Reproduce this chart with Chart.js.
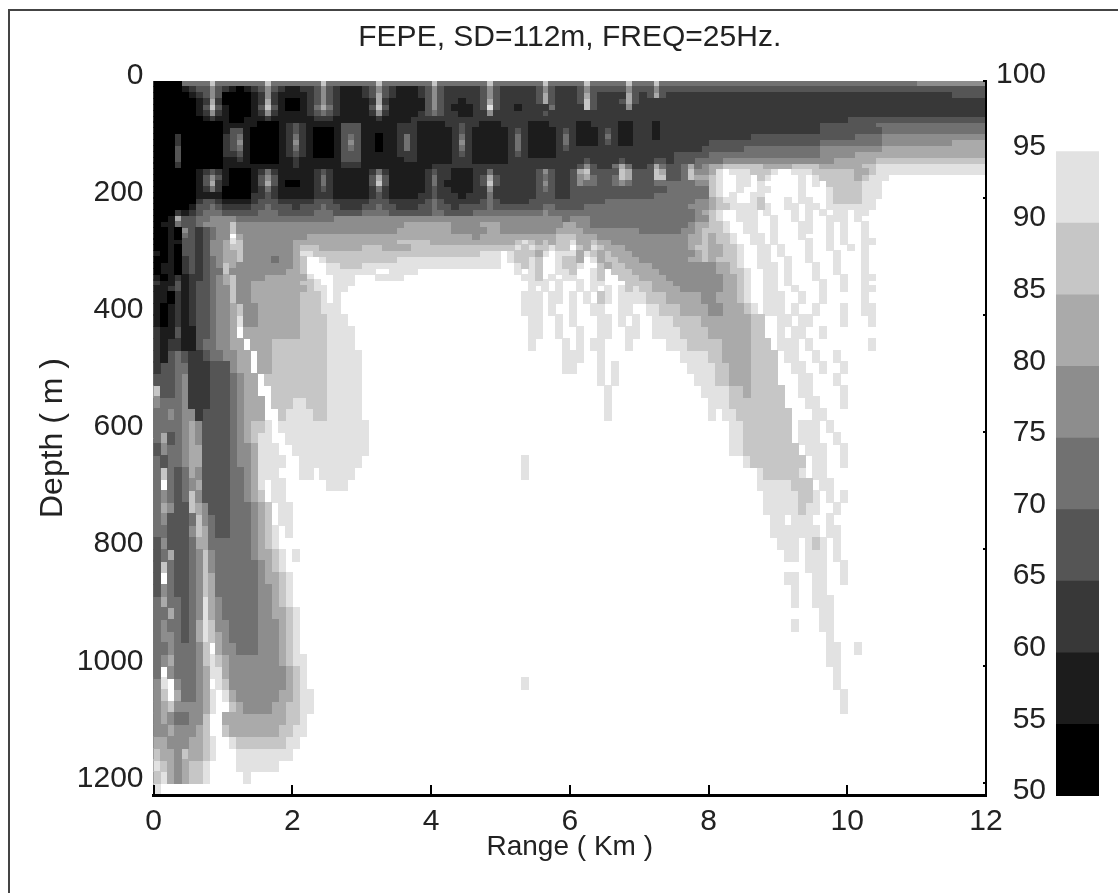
<!DOCTYPE html>
<html>
<head>
<meta charset="utf-8">
<title>FEPE transmission loss</title>
<script src="https://cdn.jsdelivr.net/npm/chart.js@4"></script>
<style>
  html, body { margin: 0; padding: 0; background: #fff; overflow: hidden; }
  #frame { position: absolute; left: 8px; top: 9px; width: 1110px; height: 884px;
           border-left: 2px solid #444; border-top: 2px solid #444; }
  #field { position: absolute; left: 0; top: 0; }
  #cbar { position: absolute; left: 990px; top: 0; }
</style>
</head>
<body>
<div id="frame"></div>
<canvas id="field" width="1118" height="893"></canvas>
<canvas id="cbar" width="128" height="893"></canvas>
<script>
// contour bands (dB)
const bandFloors = [50, 55, 60, 65, 70, 75, 80, 85, 90];
const bandColors = ['#000000', '#1c1c1c', '#383838', '#555555', '#717171', '#8d8d8d', '#aaaaaa', '#c6c6c6', '#e2e2e2'];
const bandStep = 5;
const rangeTicks = [0, 2, 4, 6, 8, 10, 12];
const depthTicks = [0, 200, 400, 600, 800, 1000, 1200];
const barTicks = [50, 55, 60, 65, 70, 75, 80, 85, 90, 95, 100];
const rangeMax = 12, depthMax = 1220;
const colStep = 0.1;          // km per column
const shallowStep = 10;       // m per row, 0-360 m
const deepStep = 20;          // m per row, 360-1220 m
const deepStart = 360;
const farStartCol = 50;

// band index per cell, '.' = above 95 (white). Blocks of ten columns = 1 km.
const shallowRows = [
"0000444474 4444447444 4444744444 4474444444 7444444474 4444447444 4474444474 4474444444 4444444444 4444444444 4444444444 5555555555",
"0000123353 2101235321 1223532111 2353211123 5322222353 2222235322 2353333353 3353333333 3333333333 3333333333 3333333333 3333333333",
"0000012353 0000125211 1123532111 2363211123 5322222353 2222236322 2363222263 2363222222 2222222222 2222222222 2222222222 2222233333",
"0000001262 0000126210 0123532111 1262111113 5322122363 2222236322 2373222363 2222222222 2222222222 2222222222 2222222222 2222222222",
"0000001373 1000137310 0124642111 1373111113 5321112383 2212222422 2273222252 2222222222 2222222222 2222222222 2222222222 2222222222",
"0000001252 1000125211 1123432111 1252111123 4322112252 2222223222 2222222222 2222222222 2222222222 2222222222 2222222222 2222222222",
"0000000121 1001112111 1112221111 1121111222 2222222222 2222222222 2222222222 2222222222 2222222222 2222222222 3333333333 3333333333",
"0000000000 1111100012 3211111333 1111122211 1122322111 2222111222 2112222112 2212222222 2222222222 2222223333 3333444444 4444444444",
"0000000000 1331000012 3210001333 1111122211 1112321111 1232111123 2111232112 2212222222 2222222222 2222223333 3333344444 4444444444",
"0002000000 2341000012 4210001343 1101124211 1112421111 1242111124 2111242112 2212222222 2222223333 3333333333 3444455555 5555555555",
"0002000000 2351000012 5210001353 1101124211 1112521111 1242111124 2111232112 2222222222 3333333333 3333334444 4444455555 5555566666",
"0003000000 2341000012 4210001343 1101124211 1112421111 1242111123 2222222222 2222222223 3333344444 4444445555 5555566666 6666666666",
"0003000000 2231000012 3210001333 1111122211 1112321111 1232111122 2222222222 2222233333 4444444444 4444445555 5666666666 6666666666",
"0003000000 1121000011 2111111333 1111112211 1112221111 1222222222 2232222322 2233233344 4455555555 5555555566 6666777777 7777777777",
"0002000000 1111111111 2111111222 1111111111 2222222222 2222222222 2353224642 2364334645 6677777766 6677776666 6677888888 8888888888",
"0000001232 1000124211 1112321111 1242111112 3221112242 2222235322 3673333763 3376334755 68.8887778 ..88877777 7667888888 8888888888",
"0000001353 1000135311 1112421111 1363111112 4221112363 2222234322 3564334763 3377334766 78..88.78. ...8.87777 767888....",
"0000001362 1000136310 0112421111 1373111112 4211112373 2222235322 3544334543 3344444455 78..88.8.. ...8.8.777 77888",
"0000001242 0000124211 1112321111 1242111112 3221112252 2222234322 3333333333 3333444444 78..8..88. ...8...877 77888",
"0000001111 0000223211 1112221111 1232111122 3222122242 2222233322 3333333333 3344444444 78.8..88.. ...8...877 77888",
"0000002332 1111233322 2223332222 2333222223 4322222343 2222333333 3333344444 4444444455 6788..87.. .8.88..877 7788",
"0000013343 2222334333 2333433222 3343322233 4332333343 3333334433 3344444444 4444444555 677888878. .88.88.888 8888",
"0002123444 3333344433 3334443333 4444333333 4433334444 4444445444 4444444444 4444444456 78..888.8. ..8.8.8.88 .88",
"0016334455 5544444444 4444445555 5555555555 5555555555 5555555554 5554444444 4444444455 78..888..8 ..8.8..888 .8.",
"0114334555 5755555555 5555555555 5555556666 6665555666 5555555556 6554444444 4444444566 778..88..8 ...88..8.8 ..8",
"0010532345 5755555555 5555555555 5555566666 6665555566 5555555566 6655555555 4444445567 778..88..8 ...88..8.8 ..8",
"0010432345 5.65555555 5566666666 6666666666 6666665666 6666666677 7666555555 5555555667 6778..88.8 ...8...8.8 ..8",
"0011332355 6875555555 6666666666 6666677777 6666666666 6678767677 8667665555 5555555667 6778..88.8 ....8..8.8 ..88",
"0010332355 6775555555 6777666666 7776666777 7777777777 7787877877 .768766655 5555555677 66778..88. 8...8..8.. 8.8",
"1010332355 6675555555 6887777777 7777777777 7777777888 .877768.88 8687676665 5555555567 66778..88. 8...8...8. ..8",
"0010232345 6675555455 67..877777 7777788888 8888888888 .87787..87 76.8677666 5555555667 67778..88. .8..8...8. ..8",
"0110232345 7655555555 67...88777 8888888888 8888888888 ..8787..87 78..767766 6655555555 56678..888 .8...8..8. ..8",
"0110232344 7555555556 67...88888 88..8888.. .......... ..8.87..88 7..87.7776 6665555555 566778..88 .8...8..8. ..8",
"1012122345 6755556666 668...888. ..8888.... .......... ...887.8.8 8..87..777 6666555555 556678..88 .8...8...8 ..88",
"2113123345 6755666666 6778..888. .......... .......... ....888.8. .8.88...77 7766655555 556678..88 .8....8..8 ..8",
"1123123345 5755666666 66788.88.. .......... .......... ....8.8.8. .8.8.8.878 7766665555 556678..88 ..8...8..8 ..88"
];

// cols 0-4.9 km, 360-1220 m
const deepNearRows = [
"1102123345 5755666666 67778.8",
"1012123345 5675566666 6777888",
"1012123345 5685566666 67777888",
"2113113345 56.6666666 677778888",
"2122113445 566.666777 777778888",
"2134322344 5566.66777 7777788888",
"2334422233 3566.66777 7777788888",
"3334522233 34566.7777 7777788888",
"7334522233 34566..777 7777788888",
"5444522233 345666.777 8877788888",
"4454552333 345666..78 8887788888",
"4444565333 3456778.88 8888888888 8",
"4634565333 3456788..8 8888888888 8",
"3544566333 34556888.. 8888888888 8",
"4344566333 345568888. .888888888",
"4743465333 34456888.. .88.88888",
"4.43456333 344568.88. .....888",
"4543475333 344567.88.",
"4653376533 3444567.88",
"4533347543 3444567.88",
"4433357643 34445678.8",
"3533346644 44445678",
"3463345754 444456678. 8",
"3743345754 444445678",
"3.43345764 4444456678",
"3543345764 4444455678",
"4644345865 4444455678",
"4464345865 4444455667 8",
"4544346875 5444455567 8",
"4554346876 5444455567 8",
"44544457.6 5544455567 8",
"4564445787 6555555567 88",
"4.54445688 6555555556 78",
"58.54456.8 7555555556 78",
"57.644568. 8655555566 788",
"567555568. .765555667 788",
"56544557.. 6666666667 78",
"55655567.. 7666666677 88",
"665556678. .877777778 8",
"766576678. ..88888888",
"87656778.. ..888888",
"78656778.. ...8",
"8"
];

// cols 5-12 km, 360-1220 m
const deepFarRows = [
"...888.88. 8.8.78.888 8777666665 566678..88 8..8..8... ..8",
"...888.8.. 8..88..88. .887776666 5566678.88 8.8..8...8 ..88",
"....88..8. 8...88.8.8 ..88877776 66666677.. 88.88....8 ...8",
"....88..8. .8..88..88 ..88887777 66666677.. 8.88..8... ",
"....8....8 .8.88...8. ....888777 776666777. 888.8..... ...8",
".........8 88..8..... ......8888 7766667777 .88..8..8.",
".........8 8...8.8... .......888 8776667777 ..88..8..8",
".......... ....8.8... ........88 8776667777 ...88...8.",
".......... .....8.... .........8 8887767777 7..88....8",
".......... .....8.... .......... 8887777777 7...88...8",
".......... .....8.... .......... 8.88777777 77...88...",
".......... .......... .......... ...8877777 77.888.8..",
".......... .......... .......... ...8877777 77.888..8.",
".......... .......... .......... ...8877777 777.888..8",
"...8...... .......... .......... .....87777 7777.88..8",
"...8...... .......... .......... .......877 7778.88...",
".......... .......... .......... .......888 88777.88..",
".......... .......... .......... ........88 888778.8.8",
".......... .......... .......... ........88 888788..8.",
".......... .......... .......... .........8 8.888..8..",
".......... .......... .......... .........8 888888.88.",
".......... .......... .......... .......... 888.878.8.",
".......... .......... .......... .......... .88.888.8.",
".......... .......... .......... .......... ....888..8",
".......... .......... .......... .......... .88..88..8",
".......... .......... .......... .......... ..8..88...",
".......... .......... .......... .......... ..8..888..",
".......... .......... .......... .......... ......88..",
".......... .......... .......... .......... ..8...88..",
".......... .......... .......... .......... .......8..",
".......... .......... .......... .......... .......88. .8",
".......... .......... .......... .......... .......88.",
".......... .......... .......... .......... ........8.",
"...8...... .......... .......... .......... ........8.",
".......... .......... .......... .......... .........8",
".......... .......... .......... .......... .........8",
"", "", "", "", "", "", ""
];

const textFont = '"Liberation Sans", sans-serif';
const textColor = '#222';

function cellImage(w, h, color) {
    const c = document.createElement('canvas');
    c.width = w;
    c.height = h;
    const g = c.getContext('2d');
    g.fillStyle = color;
    g.fillRect(0, 0, w, h);
    return c;
}

// one list of cell centres per band
function addCells(row, startCol, depth, lists) {
    const cells = row.replace(/ /g, '');
    for (let i = 0; i < cells.length; i++) {
        if (cells[i] === '.') continue;
        lists[+cells[i]].push({ x: (startCol + i + 0.5) * colStep, y: depth });
    }
}

const shallowCells = bandFloors.map(() => []);
const deepCells = bandFloors.map(() => []);
shallowRows.forEach((row, r) => addCells(row, 0, (r + 0.5) * shallowStep, shallowCells));
deepNearRows.forEach((row, k) => addCells(row, 0, deepStart + (k + 0.5) * deepStep, deepCells));
deepFarRows.forEach((row, k) => addCells(row, farStartCol, deepStart + (k + 0.5) * deepStep, deepCells));

const cellDatasets = [];
bandColors.forEach((color, b) => {
    cellDatasets.push({ data: shallowCells[b], pointStyle: cellImage(8, 7, color), pointRadius: 4, backgroundColor: color, borderWidth: 0 });
    cellDatasets.push({ data: deepCells[b], pointStyle: cellImage(8, 13, color), pointRadius: 4, backgroundColor: color, borderWidth: 0 });
});

const fieldChart = new Chart(document.getElementById('field').getContext('2d'), {
    type: 'scatter',
    data: { datasets: cellDatasets },
    options: {
        responsive: false,
        animation: false,
        events: [],
        layout: { padding: 0 },
        plugins: {
            legend: { display: false },
            tooltip: { enabled: false },
            title: {
                display: true,
                text: 'FEPE, SD=112m, FREQ=25Hz.',
                color: textColor,
                fullSize: false,
                font: { family: textFont, size: 30, weight: 'normal', lineHeight: 1 },
                padding: { top: 23, bottom: 28 }
            }
        },
        scales: {
            x: {
                type: 'linear',
                position: 'bottom',
                min: 0,
                max: rangeMax,
                afterBuildTicks: axis => { axis.ticks = rangeTicks.map(v => ({ value: v })); },
                afterFit: axis => { axis.height = 98; },
                ticks: { color: textColor, font: { family: textFont, size: 30 }, padding: 19, maxRotation: 0 },
                grid: { drawOnChartArea: false, tickLength: -10, color: '#000', lineWidth: 2, z: 1 },
                border: { display: true, color: '#000', width: 3, z: 1 },
                title: {
                    display: true,
                    text: 'Range ( Km )',
                    color: textColor,
                    font: { family: textFont, size: 28, lineHeight: 1 },
                    padding: { top: 0, bottom: 32 }
                }
            },
            y: {
                type: 'linear',
                position: 'left',
                reverse: true,
                min: 0,
                max: depthMax,
                afterBuildTicks: axis => { axis.ticks = depthTicks.map(v => ({ value: v })); },
                afterFit: axis => { axis.width = 153.5; },
                ticks: {
                    color: textColor,
                    font: { family: textFont, size: 30 },
                    padding: 10,
                    labelOffset: -5,
                    callback: v => String(v)
                },
                grid: { display: false, drawTicks: false },
                border: { display: true, color: '#777', width: 1 },
                title: {
                    display: true,
                    text: 'Depth ( m )',
                    color: textColor,
                    font: { family: textFont, size: 32, lineHeight: 1 },
                    padding: { top: 37, bottom: 37 }
                }
            },
            yEdge: {
                type: 'linear',
                position: 'right',
                reverse: true,
                min: 0,
                max: depthMax,
                afterBuildTicks: axis => { axis.ticks = depthTicks.map(v => ({ value: v })); },
                afterFit: axis => { axis.width = 132; },
                ticks: { display: false },
                grid: { drawOnChartArea: false, tickLength: -3, color: '#000', lineWidth: 2, z: 1 },
                border: { display: true, color: '#000', width: 2, z: 1 }
            }
        }
    }
});

const barDatasets = bandFloors.map((floor, b) => ({
    data: [[floor, floor + bandStep]],
    backgroundColor: bandColors[b],
    borderWidth: 0,
    grouped: false,
    barPercentage: 1,
    categoryPercentage: 1
}));

const barChart = new Chart(document.getElementById('cbar').getContext('2d'), {
    type: 'bar',
    data: { labels: ['TL'], datasets: barDatasets },
    options: {
        responsive: false,
        animation: false,
        events: [],
        layout: { padding: { top: 80, bottom: 97, right: 19 } },
        plugins: { legend: { display: false }, tooltip: { enabled: false } },
        scales: {
            x: { display: false },
            y: {
                min: 50,
                max: 100,
                afterBuildTicks: axis => { axis.ticks = barTicks.map(v => ({ value: v })); },
                afterFit: axis => { axis.width = 66; },
                ticks: { color: textColor, font: { family: textFont, size: 30 }, padding: 10, labelOffset: -5 },
                grid: { display: false, drawTicks: false },
                border: { display: false }
            }
        }
    }
});
</script>
</body>
</html>
